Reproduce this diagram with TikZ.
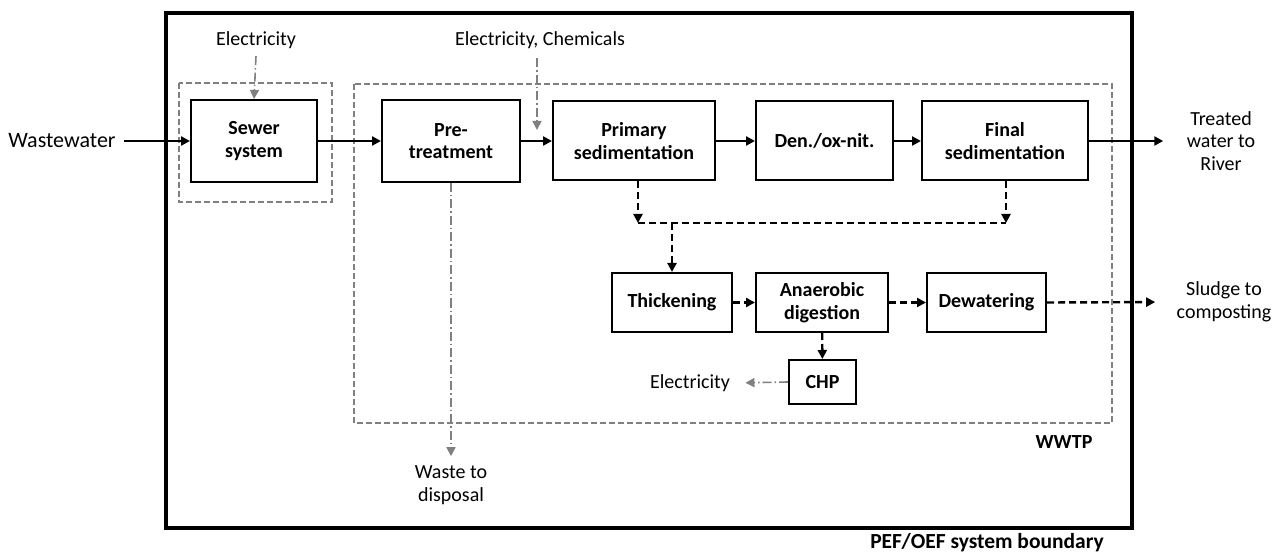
\documentclass[tikz,border=0pt]{standalone}
\usepackage{fontspec}
\setmainfont{Carlito}
\usetikzlibrary{arrows.meta}

\begin{document}
\begin{tikzpicture}[
		x=1pt,y=-1pt,
		every node/.style={font=\fontsize{20}{22.5}\selectfont,align=center},
		unit/.style={draw,line width=2pt,font=\fontsize{20}{22.5}\selectfont\bfseries,inner sep=0pt},
		flow/.style={line width=2.4pt,-{Triangle[length=9pt,width=9pt]}},
		sflow/.style={line width=2.4pt,dash pattern=on 7pt off 4pt,-{Triangle[length=9pt,width=9pt]}},
		sline/.style={line width=2.4pt,dash pattern=on 7pt off 4pt},
		eflow/.style={line width=1.6pt,gray,dash pattern=on 9pt off 3pt on 1.5pt off 3pt,-{Triangle[length=9pt,width=9pt]}},
		gbound/.style={line width=2.2pt,gray,dash pattern=on 6pt off 3pt}
		]
		\useasboundingbox (0,0) rectangle (1282,553);
		\draw[line width=4.5pt] (166,13) rectangle (1132,528);
		\draw[gbound] (179,83) rectangle (332,202);
		\draw[gbound] (354,84) rectangle (1112,423);
		\node[unit,minimum width=126,minimum height=82] (sewer) at (254,141) {Sewer\\system};
		\node[unit,minimum width=138,minimum height=82] (pre) at (451,141) {Pre-\\treatment};
		\node[unit,minimum width=162,minimum height=79] (primary) at (634,141) {Primary\\sedimentation};
		\node[unit,minimum width=137,minimum height=79] (den) at (824.5,141) {Den./ox-nit.};
		\node[unit,minimum width=166,minimum height=79] (final) at (1005,141) {Final\\sedimentation};
		\node[unit,minimum width=120,minimum height=59] (thick) at (672,302.5) {Thickening};
		\node[unit,minimum width=132,minimum height=59] (anaer) at (822,302.5) {Anaerobic\\digestion};
		\node[unit,minimum width=119,minimum height=59] (dew) at (986.5,302.5) {Dewatering};
		\node[unit,minimum width=67,minimum height=44] (chp) at (822.5,382) {CHP};
		\node[font=\fontsize{22}{22.5}\selectfont] (wastewater) at (62,141) {Wastewater};
		\node (river) at (1221,141) {Treated\\water to\\River};
		\node (sludge) at (1224,302) {Sludge to\\composting};
		\node (elecsewer) at (256,40) {Electricity};
		\node (elecchem) at (540,40) {Electricity, Chemicals};
		\node (elecchp) at (690,383) {Electricity};
		\node (waste) at (451,485) {Waste to\\disposal};
		\node[font=\fontsize{20}{22.5}\selectfont\bfseries] (wwtp) at (1064,442) {WWTP};
		\node[font=\fontsize{21.5}{22.5}\selectfont\bfseries] (pef) at (987,543) {PEF/OEF system boundary};
		\coordinate (chemin) at (537,130);
		\coordinate (jl) at (638,223);
		\coordinate (jr) at (1006,223);
		\draw[flow] (wastewater.east) ++(5,0) -- (sewer.west);
		\draw[flow] (sewer) -- (pre);
		\draw[flow] (pre) -- (primary);
		\draw[flow] (primary) -- (den);
		\draw[flow] (den) -- (final);
		\draw[flow,shorten >=20pt] (final.east) -- (river.west);
		\draw[sflow] (primary.south -| jl) -- (jl);
		\draw[sflow] (final.south -| jr) -- (jr);
		\draw[sline] (jl) -- (jr);
		\draw[sflow] (thick.north |- jl) -- (thick);
		\draw[sflow] (thick) -- (anaer);
		\draw[sflow] (anaer) -- (dew);
		\draw[sflow,shorten >=18pt] (dew.east) -- (sludge.west);
		\draw[sflow] (anaer) -- (chp);
		\draw[eflow,shorten >=12pt] (chp.west) -- (elecchp.east);
		\draw[eflow] (elecsewer.south) ++(0,4) -- (sewer.north);
		\draw[eflow] (elecchem.south -| chemin) ++(0,6) -- (chemin);
		\draw[eflow,shorten >=6pt] (pre.south) -- (waste.north);
	\end{tikzpicture}
\end{document}
